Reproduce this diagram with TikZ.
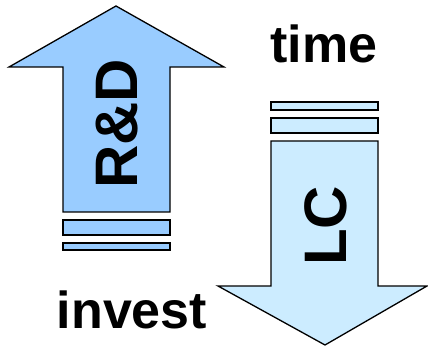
\documentclass[tikz,border=0pt]{standalone}
\usepackage{fontspec}
\setmainfont{Liberation Sans}
\definecolor{rdblue}{HTML}{99CCFF}
\definecolor{lcblue}{HTML}{CCECFF}
\begin{document}
\begin{tikzpicture}[
    x=1pt, y=-1pt,
    outline/.style={draw, line width=1.3pt, line join=miter},
    word/.style={font=\fontsize{52}{60}\selectfont\bfseries, inner sep=0pt},
    tag/.style={font=\fontsize{60}{70}\selectfont\bfseries, inner sep=0pt, rotate=90}
  ]
    \useasboundingbox (0,0) rectangle (428,347);

    % R&D arrow (up)
    \draw[outline, fill=rdblue] (116,6) -- (224,67) -- (170,67) -- (170,212)
      -- (63,212) -- (63,67) -- (9,67) -- cycle;
    \draw[outline, fill=rdblue] (63,220) rectangle (170,235);
    \draw[outline, fill=rdblue] (63,243) rectangle (170,250);

    % LC arrow (down)
    \draw[outline, fill=lcblue] (271,102) rectangle (378,110);
    \draw[outline, fill=lcblue] (271,118) rectangle (378,133);
    \draw[outline, fill=lcblue] (271,141) -- (378,141) -- (378,286) -- (427,286)
      -- (325,345) -- (218,286) -- (271,286) -- cycle;

    % Labels
    \node[tag]  at (117,124) (rd)     {R\&D};
    \node[tag]  at (326,226) (lc)     {LC};
    \node[word, anchor=base] at (324,63)  (time)   {time};
    \node[word, anchor=base] at (132,328) (invest) {invest};

  \end{tikzpicture}
\end{document}
